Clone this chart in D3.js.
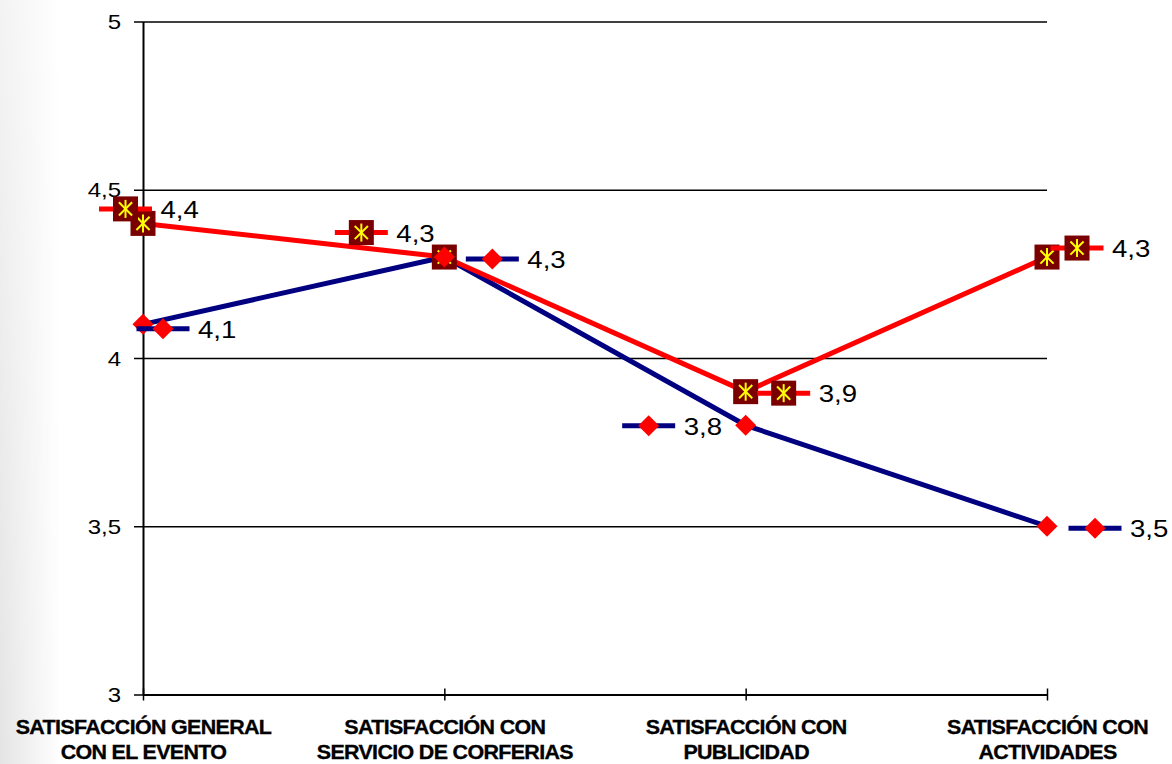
<!DOCTYPE html>
<html>
<head>
<meta charset="utf-8">
<script src="https://cdn.jsdelivr.net/npm/d3@7/dist/d3.min.js"></script>
<style>
  body { margin: 0; background: #fff; }
  svg { display: block; font-family: "Liberation Sans", Arial, sans-serif; }
</style>
</head>
<body>
<svg id="chart" width="1172" height="764"></svg>
<script>
// Categories (line break marks the two-line axis label)
const categories = [
  "SATISFACCIÓN GENERAL\nCON EL EVENTO",
  "SATISFACCIÓN CON\nSERVICIO DE CORFERIAS",
  "SATISFACCIÓN CON\nPUBLICIDAD",
  "SATISFACCIÓN CON\nACTIVIDADES"
];

// Series values
const serieAzul = [4.1, 4.3, 3.8, 3.5];
const serieRoja = [4.4, 4.3, 3.9, 4.3];

// Y axis ticks
const yTicks = [3, 3.5, 4, 4.5, 5];

// Where each data label (legend key + value) sits relative to its point
const labelShiftAzul = [[20, 4.5], [48, 2], [-97, 0.5], [48, 2]];
const labelShiftRoja = [[-17.5, -14.5], [-83, -24.5], [38, 1.5], [30, -9]];

const locale = d3.formatLocale({ decimal: ",", thousands: ".", grouping: [3], currency: ["", ""] });
const fmtTick = locale.format(".1~f");
const fmtValue = locale.format(".1f");

const svg = d3.select("#chart");
const plot = { left: 143, right: 1047, top: 21.5, bottom: 694.5 };

// soft grey edge of the slide background
const defs = svg.append("defs");
const grad = defs.append("linearGradient").attr("id", "edge").attr("x1", 0).attr("x2", 1).attr("y1", 0).attr("y2", 0);
grad.append("stop").attr("offset", 0).attr("stop-color", "#e4e4e4");
grad.append("stop").attr("offset", 1).attr("stop-color", "#ffffff");
const gradV = defs.append("linearGradient").attr("id", "edgeMask").attr("x1", 0).attr("x2", 0).attr("y1", 0).attr("y2", 1);
gradV.append("stop").attr("offset", 0).attr("stop-color", "#fff").attr("stop-opacity", 0.45);
gradV.append("stop").attr("offset", 1).attr("stop-color", "#fff").attr("stop-opacity", 1);
const mask = defs.append("mask").attr("id", "edgeFade");
mask.append("rect").attr("width", 60).attr("height", 764).attr("fill", "url(#edgeMask)");
svg.append("rect").attr("width", 1172).attr("height", 764).attr("fill", "#fff");
svg.append("rect").attr("width", 60).attr("height", 764).attr("fill", "url(#edge)").attr("mask", "url(#edgeFade)");

const x = d3.scalePoint().domain(categories).range([plot.left, plot.right]);
const y = d3.scaleLinear().domain([3, 5]).range([plot.bottom, plot.top]);

// horizontal gridlines
svg.append("g")
  .attr("transform", `translate(${plot.left},0)`)
  .call(d3.axisLeft(y).tickValues(yTicks.filter(v => v > 3)).tickSizeInner(-(plot.right - plot.left)).tickSizeOuter(0).tickFormat(""))
  .call(g => g.select(".domain").remove())
  .call(g => g.selectAll(".tick line").attr("stroke", "#000").attr("stroke-width", 1.5));

// y axis
svg.append("g")
  .attr("transform", `translate(${plot.left},0)`)
  .call(d3.axisLeft(y).tickValues(yTicks).tickSizeInner(9).tickSizeOuter(0).tickFormat(fmtTick))
  .call(g => g.select(".domain").attr("stroke", "#000").attr("stroke-width", 2))
  .call(g => g.selectAll(".tick line").attr("stroke", "#000").attr("stroke-width", 1.5))
  .call(g => g.selectAll(".tick text")
    .attr("x", null).attr("dy", null)
    .attr("transform", "translate(-22,7.2) scale(1.2,1)")
    .attr("text-anchor", "end")
    .attr("font-size", 20)
    .attr("font-family", "'Liberation Sans', Arial, sans-serif")
    .attr("fill", "#000"));

// x axis
svg.append("g")
  .attr("transform", `translate(0,${plot.bottom})`)
  .call(d3.axisBottom(x).tickSizeInner(6).tickSizeOuter(0).tickFormat(""))
  .call(g => g.select(".domain").attr("stroke", "#000").attr("stroke-width", 2))
  .call(g => g.selectAll(".tick line").attr("y1", -6).attr("y2", 6).attr("stroke", "#000").attr("stroke-width", 1.5))
  .call(g => g.selectAll(".tick text").remove())
  .call(g => g.selectAll(".tick").each(function (d) {
    const t = d3.select(this).append("text")
      .attr("transform", "translate(0,39) scale(1.1,1)")
      .attr("text-anchor", "middle")
      .attr("font-size", 19.5)
      .attr("font-weight", "bold")
      .attr("letter-spacing", -0.6)
      .attr("stroke", "#000")
      .attr("stroke-width", 0.3)
      .attr("font-family", "'Liberation Sans', Arial, sans-serif")
      .attr("fill", "#000");
    d.split("\n").forEach((line, i) => {
      t.append("tspan").attr("x", 0).attr("y", i * 26).text(line);
    });
  }));

const lineGen = d3.line().x((d, i) => x(categories[i])).y(d => y(d));

const azul = "#000080";
const rojo = "#ff0000";

// series lines
svg.append("path").datum(serieAzul).attr("d", lineGen)
  .attr("fill", "none").attr("stroke", azul).attr("stroke-width", 5).attr("stroke-linejoin", "round");
svg.append("path").datum(serieRoja).attr("d", lineGen)
  .attr("fill", "none").attr("stroke", rojo).attr("stroke-width", 5).attr("stroke-linejoin", "round");

// marker shapes
function squareStar(g) {
  g.append("rect").attr("x", -12.5).attr("y", -12.5).attr("width", 25).attr("height", 25).attr("fill", "#7a0000");
  const r = 9, d = 6.6;
  const arms = [[0, -r, 0, r], [-d, -d, d, d], [-d, d, d, -d]];
  arms.forEach(a => g.append("line").attr("x1", a[0]).attr("y1", a[1]).attr("x2", a[2]).attr("y2", a[3])
    .attr("stroke", "#ffff00").attr("stroke-width", 2));
}
function diamond(g) {
  g.append("path").attr("d", "M0,-10.5L10.5,0L0,10.5L-10.5,0Z").attr("fill", "#ff0000");
}

// point markers
serieRoja.forEach((v, i) => {
  squareStar(svg.append("g").attr("transform", `translate(${x(categories[i])},${y(v)})`));
});
serieAzul.forEach((v, i) => {
  diamond(svg.append("g").attr("transform", `translate(${x(categories[i])},${y(v)})`));
});

// data labels with legend key
function dataLabels(values, shifts, color, marker) {
  values.forEach((v, i) => {
    const g = svg.append("g")
      .attr("transform", `translate(${x(categories[i]) + shifts[i][0]},${y(v) + shifts[i][1]})`);
    g.append("line").attr("x1", -26.5).attr("x2", 26.5).attr("y1", 0).attr("y2", 0)
      .attr("stroke", color).attr("stroke-width", 5);
    marker(g);
    g.append("text")
      .attr("transform", "translate(35,9) scale(1.2,1)")
      .attr("font-size", 23)
      .attr("fill", "#000")
      .text(fmtValue(v));
  });
}
dataLabels(serieRoja, labelShiftRoja, rojo, squareStar);
dataLabels(serieAzul, labelShiftAzul, azul, diamond);
</script>
</body>
</html>
